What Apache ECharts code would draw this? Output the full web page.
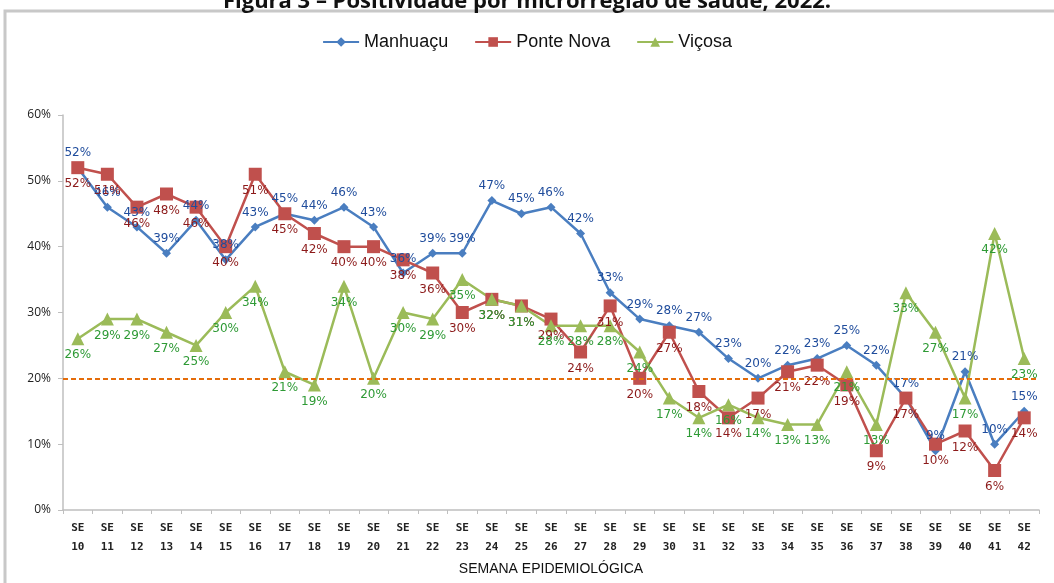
<!DOCTYPE html>
<html>
<head>
<meta charset="utf-8">
<script src="https://cdn.jsdelivr.net/npm/echarts@6/dist/echarts.min.js"></script>
<style>
  html, body { margin: 0; padding: 0; background: #fff; }
  #main { width: 1054px; height: 583px; }
</style>
</head>
<body>
<div id="main"></div>
<script>
// semanas epidemiológicas
var semanas = ['10','11','12','13','14','15','16','17','18','19','20','21','22','23','24','25','26',
               '27','28','29','30','31','32','33','34','35','36','37','38','39','40','41','42'];

// positividade (%)
var manhuacu  = [52,46,43,39,44,38,43,45,44,46,43,36,39,39,47,45,46,42,33,29,28,27,23,20,22,23,25,22,17,9,21,10,15];
var ponteNova = [52,51,46,48,46,40,51,45,42,40,40,38,36,30,32,31,29,24,31,20,27,18,14,17,21,22,19,9,17,10,12,6,14];
var vicosa    = [26,29,29,27,25,30,34,21,19,34,20,30,29,35,32,31,28,28,28,24,17,14,16,14,13,13,21,13,33,27,17,42,23];

var limite = 20;

var narrow = "'Liberation Sans Narrow', 'Arial Narrow', 'Liberation Sans', sans-serif";

var myChart = echarts.init(document.getElementById('main'));

function serie(name, data, color, labelColor, symbol, size, pos) {
    return {
        name: name,
        type: 'line',
        data: data,
        symbol: symbol,
        symbolSize: size,
        lineStyle: { color: color, width: 2.5 },
        itemStyle: { color: color },
        label: {
            show: true,
            position: pos,
            distance: 4,
            formatter: '{c}%',
            color: labelColor,
            fontFamily: 'DejaVu Sans',
            fontSize: 12
        },
        z: 3
    };
}

var series = [
    serie('Manhuaçu', manhuacu, '#4A7EC0', '#1F4C9C', 'diamond', 9, 'top'),
    serie('Ponte Nova', ponteNova, '#C0504D', '#8C1A1A', 'rect', 13, 'bottom'),
    serie('Viçosa', vicosa, '#9BBB59', '#2E9A35', 'triangle', 13, 'bottom')
];

series[0].markLine = {
    silent: true,
    symbol: 'none',
    label: { show: false },
    lineStyle: { color: '#E46C0A', type: [5, 3], width: 2 },
    data: [{ yAxis: limite }]
};

var option = {
    animation: false,
    title: {
        text: 'Figura 3 – Positividade por microrregião de saúde, 2022.',
        left: 'center',
        top: -14,
        textStyle: { fontFamily: 'Open Sans', fontWeight: 'bold', fontSize: 22, color: '#111' }
    },
    graphic: [{
        type: 'rect',
        shape: { x: 5, y: 11, width: 1060, height: 600 },
        style: { fill: 'none', stroke: '#c8c8c8', lineWidth: 3 },
        silent: true
    }],
    legend: {
        top: 28,
        left: 'center',
        itemWidth: 36,
        itemHeight: 12,
        itemGap: 26,
        textStyle: { fontFamily: narrow, fontSize: 18, color: '#111' },
        data: ['Manhuaçu', 'Ponte Nova', 'Viçosa']
    },
    grid: { left: 63, right: 15, top: 115, bottom: 73, containLabel: false },
    xAxis: {
        type: 'category',
        data: semanas,
        name: 'SEMANA EPIDEMIOLÓGICA',
        nameLocation: 'middle',
        nameGap: 52,
        nameTextStyle: { fontFamily: narrow, fontSize: 14, color: '#111' },
        axisLine: { lineStyle: { color: '#bfbfbf', width: 1.5 } },
        axisTick: { show: true, length: 4, lineStyle: { color: '#bfbfbf' } },
        axisLabel: {
            interval: 0,
            margin: 9,
            lineHeight: 19,
            formatter: function (v) { return 'SE\n' + v; },
            fontFamily: 'DejaVu Sans Mono',
            fontWeight: 'bold',
            fontSize: 11,
            color: '#222'
        }
    },
    yAxis: {
        type: 'value',
        min: 0,
        max: 60,
        interval: 10,
        axisLine: { show: true, lineStyle: { color: '#bfbfbf', width: 1.5 } },
        axisTick: { show: true, length: 5, lineStyle: { color: '#bfbfbf' } },
        splitLine: { show: false },
        axisLabel: {
            formatter: '{value}%',
            margin: 12,
            fontFamily: 'Open Sans',
            fontSize: 12,
            color: '#222'
        }
    },
    series: series
};

myChart.setOption(option);
</script>
</body>
</html>
